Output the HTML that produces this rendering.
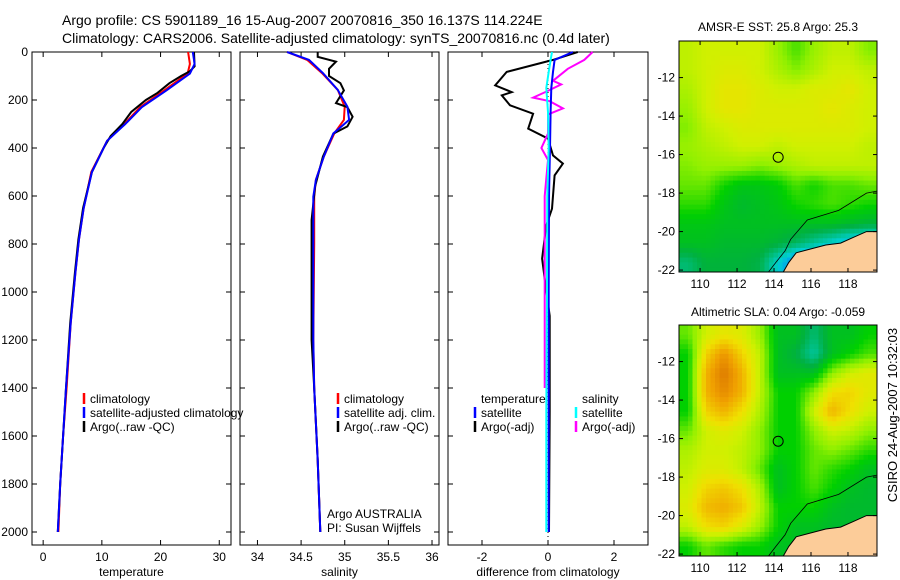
<!DOCTYPE html>
<html><head><meta charset="utf-8"><style>
body{margin:0;background:#fff;}
svg{display:block;font-family:"Liberation Sans",sans-serif;}
</style></head><body>
<svg id="fig" width="900" height="580" viewBox="0 0 900 580">
<text x="62" y="25" font-size="14">Argo profile: CS 5901189_16 15-Aug-2007 20070816_350 16.137S 114.224E</text>
<text x="62" y="43" font-size="14">Climatology: CARS2006. Satellite-adjusted climatology: synTS_20070816.nc (0.4d later)</text>
<text x="778" y="31" font-size="12" text-anchor="middle">AMSR-E SST: 25.8 Argo: 25.3</text>
<text x="778" y="316" font-size="12" text-anchor="middle">Altimetric SLA: 0.04 Argo: -0.059</text>
<text transform="translate(897,415) rotate(-90)" font-size="13" text-anchor="middle">CSIRO 24-Aug-2007 10:32:03</text>
<g id="plots"></g>
</svg>
<script>
// ---- profile data ----
const tempDepth=[0,50,90,160,230,300,370,500,650,780,920,1130,1400,1600,1800,2000];
const tempSat=[25.5,25.8,25,21,16.8,14,10.9,8.3,6.9,6.1,5.5,4.7,3.9,3.4,2.9,2.5];
const tempClim=[24.7,25.0,24.6,20.6,16.5,13.8,10.9,8.2,6.9,6.1,5.5,4.7,4.0,3.4,2.9,2.6];
const argoTempDepth=[0,60,80,100,130,170,200,250,300,350,400,500,650,780,920,1130,1400,1600,1800,2000];
const argoTemp=[25.7,25.8,25,23.5,21.5,19.5,17.5,15,13.5,11.5,10.3,8.3,6.8,6.0,5.4,4.6,3.9,3.4,2.9,2.5];
const salDepth=[0,33,88,158,228,283,339,436,533,603,800,1200,1400,1700,2000];
const salSat=[34.34,34.59,34.75,34.92,35.03,35.05,34.87,34.76,34.67,34.64,34.64,34.64,34.65,34.69,34.72];
const salClim=[34.34,34.57,34.74,34.92,35.0,34.99,34.88,34.76,34.67,34.65,34.65,34.64,34.65,34.69,34.72];
const argoSalDepth=[0,20,40,70,100,130,160,213,230,270,310,340,436,560,700,1200,1400,1700,2000];
const argoSal=[34.69,34.69,34.9,34.82,34.82,34.95,34.99,34.9,35.03,35.09,35.03,34.87,34.75,34.66,34.62,34.62,34.65,34.69,34.72];
const dTDepth=[0,33,83,139,167,181,222,257,319,361,431,465,514,653,722,861,944,1100,1500,2000];
const dTArgo=[0.9,0.15,-1.25,-1.6,-1.1,-1.4,-1.15,-0.45,-0.6,0,0.15,0.45,0.2,0.12,-0.05,-0.18,-0.1,0.05,0.05,0.03];
const dSDepth=[0,33,83,150,250,400,600,1000,1500,2000];
const dTSat=[0.75,0.2,0.15,0.1,0.08,0.06,0.03,0.02,0.02,0.02];
const dSSat=[0.12,0.08,0.02,-0.05,0,0.02,-0.02,-0.03,-0.05,-0.05];
const dSArgoDepth=[0,33,70,120,135,165,190,205,235,260,340,400,450,600,1000,1400];
const dSArgo=[1.35,1.1,0.6,0.15,0.4,-0.05,-0.45,0.05,0.45,0,0,-0.2,0,-0.1,-0.1,-0.1];
// ---- map data (rows lat -10.1 -> -22, cols lon 108.86 -> 119.57) ----
const sstGrid=[
[.70,.72,.72,.72,.72,.66,.60,.66,.70,.70,.64],
[.70,.72,.74,.74,.72,.68,.64,.68,.72,.72,.70],
[.68,.72,.76,.76,.74,.72,.72,.74,.74,.76,.72],
[.66,.72,.76,.76,.74,.74,.74,.74,.76,.74,.72],
[.64,.70,.72,.74,.74,.74,.74,.74,.74,.74,.72],
[.66,.68,.70,.72,.72,.70,.72,.72,.72,.72,.70],
[.64,.66,.66,.66,.64,.66,.68,.70,.70,.70,.70],
[.62,.62,.56,.52,.52,.54,.60,.56,.60,.60,.62],
[.58,.58,.52,.48,.50,.52,.56,.58,.60,.58,.56],
[.52,.52,.50,.50,.50,.50,.50,.50,.50,.48,.46],
[.50,.50,.48,.48,.48,.46,.42,.36,.30,.24,.20],
[.40,.46,.46,.46,.44,.30,.15,.12,.10,.10,.10]];
const slaGrid=[
[.62,.72,.76,.74,.66,.50,.50,.40,.50,.50,.55],
[.55,.80,.90,.80,.70,.50,.45,.35,.50,.55,.60],
[.55,.85,.95,.85,.70,.50,.50,.50,.65,.72,.75],
[.55,.85,.92,.85,.70,.55,.55,.65,.78,.80,.75],
[.55,.80,.85,.78,.68,.55,.55,.72,.85,.78,.72],
[.62,.72,.75,.72,.65,.55,.55,.65,.72,.70,.65],
[.68,.72,.72,.70,.65,.55,.55,.62,.65,.62,.58],
[.70,.74,.74,.70,.62,.50,.55,.62,.58,.55,.50],
[.72,.80,.82,.78,.68,.50,.55,.60,.55,.50,.48],
[.74,.84,.86,.82,.70,.55,.55,.55,.50,.48,.48],
[.70,.78,.80,.74,.66,.55,.50,.50,.48,.48,.48],
[.55,.62,.58,.55,.55,.50,.50,.50,.50,.50,.50]];
const landLon=[114.5,114.8,115.2,116.0,116.8,117.6,118.3,119.0,119.57,119.57];
const landLat=[-22.1,-21.6,-21.1,-20.9,-20.7,-20.6,-20.3,-20.0,-20.0,-22.1];
const isoLon=[113.7,114.1,114.6,114.9,115.8,117.5,119.0,119.57];
const isoLat=[-22.1,-21.6,-21.0,-20.4,-19.4,-18.9,-18.0,-17.9];
const floatLon=114.224, floatLat=-16.137;
const depthTicks=[0,200,400,600,800,1000,1200,1400,1600,1800,2000];
const tTicks=[0,10,20,30], sTicks=[34,34.5,35,35.5,36], dTicks=[-2,0,2];
const latTicks=[-12,-14,-16,-18,-20,-22], lonTicks=[110,112,114,116,118];

const NS="http://www.w3.org/2000/svg";
const root=document.getElementById('plots');
function mk(tag,attrs,parent){const e=document.createElementNS(NS,tag);for(const k in attrs)e.setAttribute(k,attrs[k]);(parent||root).appendChild(e);return e;}
const Y0=52,Y1=545;
const yD=d=>Y0+d*0.24;

function panel(name,x0,x1,vmin,vmax,ticks,title){
  const g=mk('g',{});
  
  
  const xs=v=>x0+(v-vmin)/(vmax-vmin)*(x1-x0);
  mk('rect',{x:x0,y:Y0,width:x1-x0,height:Y1-Y0,fill:'none',stroke:'#000','stroke-width':1},g);
  ticks.forEach(t=>{const x=xs(t);
    mk('line',{x1:x,x2:x,y1:Y1,y2:Y1-5,stroke:'#000'},g);
    mk('line',{x1:x,x2:x,y1:Y0,y2:Y0+5,stroke:'#000'},g);
    const tx=mk('text',{x:x,y:Y1+16,'font-size':12,'text-anchor':'middle'},g);tx.textContent=String(t);});
  depthTicks.forEach(d=>{const y=yD(d);
    mk('line',{x1:x0,x2:x0+5,y1:y,y2:y,stroke:'#000'},g);
    mk('line',{x1:x1,x2:x1-5,y1:y,y2:y,stroke:'#000'},g);});
  const tt=mk('text',{x:(x0+x1)/2,y:576,'font-size':12,'text-anchor':'middle'},g);tt.textContent=title;
  return {g,xs};
}
function line(p,depths,vals,color,name,w){
  const pts=depths.map((d,i)=>p.xs(vals[i]).toFixed(1)+','+yD(d).toFixed(1)).join(' ');
  const l=mk('polyline',{points:pts,fill:'none',stroke:color,'stroke-width':w||2},p.g);
  
  
}
function legend(g,x,y,color,label,name){
  if(color)mk('line',{x1:x,x2:x,y1:y-10,y2:y+1,stroke:color,'stroke-width':2.5},g);
  const t=mk('text',{x:x+6,y:y,'font-size':12},g);t.textContent=label;
  
  
}
depthTicks.forEach(d=>{const t=mk('text',{x:28,y:yD(d)+4,'font-size':12,'text-anchor':'end'});t.textContent=String(d);});

const p1=panel('temperature-panel',32,231,-1.9,32,tTicks,'temperature');
line(p1,tempDepth,tempClim,'#f00','temp-climatology-line');
line(p1,argoTempDepth,argoTemp,'#000','temp-argo-line');
line(p1,tempDepth,tempSat,'#00f','temp-satellite-line');
legend(p1.g,84,403,'#f00','climatology','legend-climatology');
legend(p1.g,84,417,'#00f','satellite-adjusted climatology','legend-satellite-adjusted');
legend(p1.g,84,431,'#000','Argo(..raw -QC)','legend-argo');

const p2=panel('salinity-panel',240,439,33.8,36.08,sTicks,'salinity');
line(p2,salDepth,salClim,'#f00','sal-climatology-line');
line(p2,argoSalDepth,argoSal,'#000','sal-argo-line');
line(p2,salDepth,salSat,'#00f','sal-satellite-line');
legend(p2.g,338,403,'#f00','climatology','legend-sal-climatology');
legend(p2.g,338,417,'#00f','satellite adj. clim.','legend-sal-satellite');
legend(p2.g,338,431,'#000','Argo(..raw -QC)','legend-sal-argo');
legend(p2.g,321,518,null,'Argo AUSTRALIA','argo-australia-label');
legend(p2.g,321,532,null,'PI: Susan Wijffels','pi-label');

const p3=panel('difference-panel',448,648,-3.03,3.03,dTicks,'difference from climatology');
mk('line',{x1:p3.xs(0),x2:p3.xs(0),y1:Y0,y2:Y1,stroke:'#000','stroke-dasharray':'1,3'},p3.g);
line(p3,dTDepth,dTArgo,'#000','temp-diff-argo-line');
line(p3,dSArgoDepth,dSArgo,'#f0f','sal-diff-argo-line');
line(p3,dSDepth,dTSat,'#00f','temp-diff-satellite-line');
line(p3,dSDepth,dSSat,'#0ff','sal-diff-satellite-line');
legend(p3.g,475,403,null,'temperature','legend-temperature-header');
legend(p3.g,475,417,'#00f','satellite','legend-temp-satellite');
legend(p3.g,475,431,'#000','Argo(-adj)','legend-temp-argo');
legend(p3.g,576,403,null,'salinity','legend-salinity-header');
legend(p3.g,576,417,'#0ff','satellite','legend-sal-satellite-diff');
legend(p3.g,576,431,'#f0f','Argo(-adj)','legend-sal-argo-diff');

const cmS=[0,.15,.3,.45,.55,.65,.72,.78,.88,1];
const cmC=[[0,0,160],[0,128,255],[0,208,208],[0,176,64],[0,208,0],[144,240,0],[208,240,0],[240,224,0],[240,160,0],[208,96,0]];
function cmap(v){for(let i=1;i<cmS.length;i++){if(v<=cmS[i]){const f=(v-cmS[i-1])/(cmS[i]-cmS[i-1]);const a=cmC[i-1],b=cmC[i];return 'rgb('+a.map((c,k)=>Math.round(c+(b[k]-c)*f)).join(',')+')';}}return 'rgb(208,96,0)';}
function sample(grid,r,c){
  const R=grid.length,C=grid[0].length;
  r=Math.max(0,Math.min(R-1,r));c=Math.max(0,Math.min(C-1,c));
  const r0=Math.floor(r),c0=Math.floor(c),r1=Math.min(R-1,r0+1),c1=Math.min(C-1,c0+1),fr=r-r0,fc=c-c0;
  return grid[r0][c0]*(1-fr)*(1-fc)+grid[r0][c1]*(1-fr)*fc+grid[r1][c0]*fr*(1-fc)+grid[r1][c1]*fr*fc;
}
function map(name,top,bottom,grid){
  const x0=679,x1=877,lonMin=108.86,lonMax=119.57,latMax=-10.1,latMin=-22.1;
  const xs=l=>x0+(l-lonMin)/(lonMax-lonMin)*(x1-x0);
  const ys=l=>top+(latMax-l)/(latMax-latMin)*(bottom-top);
  const g=mk('g',{});
  
  
  const R=grid.length,C=grid[0].length,S=4,cw=(x1-x0)/(C*S),ch=(bottom-top)/(R*S);
  for(let i=0;i<R*S;i++)for(let j=0;j<C*S;j++){
    const v=sample(grid,(i+0.5)/S-0.5,(j+0.5)/S-0.5);
    const cell=mk('rect',{x:(x0+j*cw).toFixed(2),y:(top+i*ch).toFixed(2),width:(cw+0.5).toFixed(2),height:(ch+0.5).toFixed(2),fill:cmap(v)},g);
    
    
  }
  mk('polygon',{points:landLon.map((l,i)=>xs(l).toFixed(1)+','+ys(landLat[i]).toFixed(1)).join(' '),fill:'#fccc99',stroke:'#000','stroke-width':1},g);
  mk('polyline',{points:isoLon.map((l,i)=>xs(l).toFixed(1)+','+ys(isoLat[i]).toFixed(1)).join(' '),fill:'none',stroke:'#000','stroke-width':0.8},g);
  const m=mk('circle',{cx:xs(floatLon),cy:ys(floatLat),r:5,fill:'none',stroke:'#000'},g);
  
  
  mk('rect',{x:x0,y:top,width:x1-x0,height:bottom-top,fill:'none',stroke:'#000'},g);
  latTicks.forEach(l=>{const y=ys(l);mk('line',{x1:x0,x2:x0+4,y1:y,y2:y,stroke:'#000'},g);mk('line',{x1:x1,x2:x1-4,y1:y,y2:y,stroke:'#000'},g);
    const t=mk('text',{x:675,y:y+4,'font-size':12,'text-anchor':'end'},g);t.textContent=String(l);});
  lonTicks.forEach(l=>{const x=xs(l);mk('line',{x1:x,x2:x,y1:bottom,y2:bottom-4,stroke:'#000'},g);mk('line',{x1:x,x2:x,y1:top,y2:top+4,stroke:'#000'},g);
    const t=mk('text',{x:x,y:bottom+16,'font-size':12,'text-anchor':'middle'},g);t.textContent=String(l);});
}
map('sst-map',41,272,sstGrid);
map('sla-map',325,556,slaGrid);
</script>
</body></html>
